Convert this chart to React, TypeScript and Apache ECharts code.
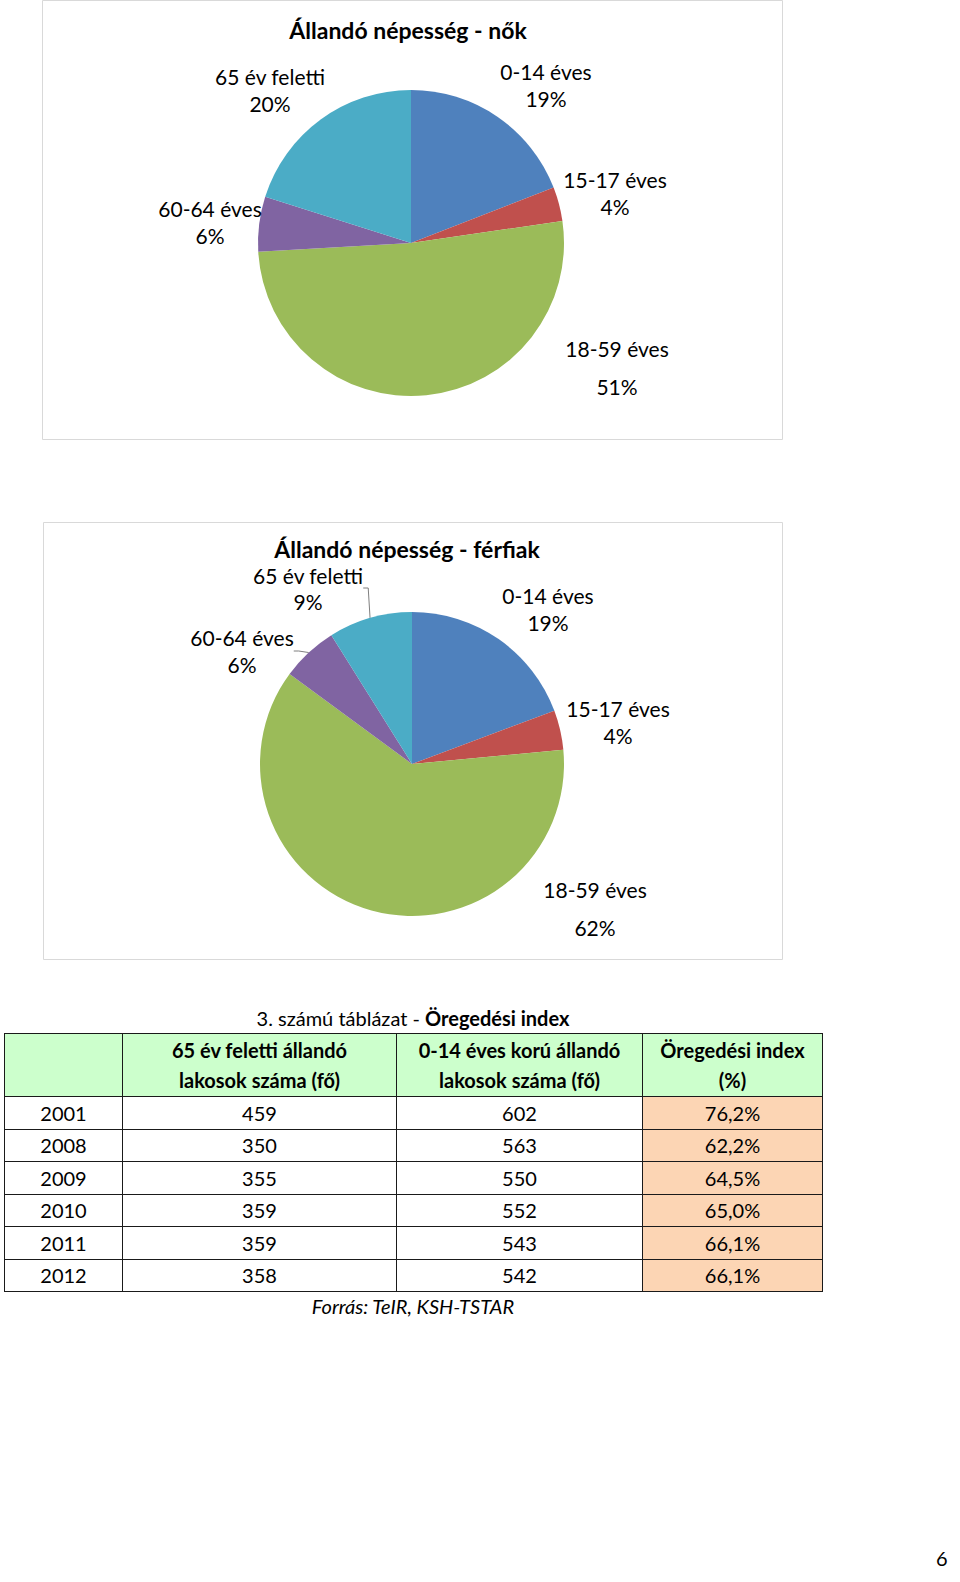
import React, { useEffect, useRef } from 'react';
import * as echarts from 'echarts';

// pie data (share in %)
const ageGroups = ['0-14 éves', '15-17 éves', '18-59 éves', '60-64 éves', '65 év feletti'];
const womenShare = [19.1, 3.6, 51.4, 5.8, 20.1];
const menShare = [19.3, 4.2, 61.6, 6.0, 8.9];
const sliceColors = ['#4F81BD', '#C0504D', '#9BBB59', '#8064A2', '#4BACC6'];

// table data
const tableYears = ['2001', '2008', '2009', '2010', '2011', '2012'];
const over65 = [459, 350, 355, 359, 359, 358];
const under15 = [602, 563, 550, 552, 543, 542];
const agingIndex = [76.2, 62.2, 64.5, 65.0, 66.1, 66.1];

const FONT = 'Lato, "Noto Sans", sans-serif';

// label centres, per pie, per slice
const womenLabelPos = [[546, 85], [615, 193], [617, 367], [210, 222], [270, 90]];
const menLabelPos = [[548, 609], [618, 722], [595, 908], [242, 651], [308, 588]];

function PieCharts() {
  const chartRef = useRef<HTMLDivElement>(null);

  useEffect(() => {
    if (!chartRef.current) return;
    const chart = echarts.init(chartRef.current, null, { renderer: 'svg' });

    const makeSeries = (values: number[], center: number[], radius: number, pos: number[][], lines: boolean) => ({
      type: 'pie',
      center,
      radius,
      startAngle: 90,
      clockwise: true,
      silent: true,
      emphasis: { disabled: true },
      data: ageGroups.map((name, i) => ({
        name,
        value: values[i],
        itemStyle: { color: sliceColors[i] },
        label: i === 2 ? { lineHeight: 38 } : (lines && i === 4 ? { lineHeight: 26 } : undefined),
        labelLine: lines && (i === 3 || i === 4) ? { show: true } : undefined
      })),
      label: {
        show: true,
        position: 'outside',
        fontFamily: FONT,
        fontSize: 21,
        lineHeight: 27,
        color: '#000',
        formatter: (p: any) => `${p.name}\n${Math.round(p.percent)}%`
      },
      labelLine: {
        show: false,
        length: 5,
        length2: 5,
        lineStyle: { color: '#7f7f7f', width: 1 }
      },
      labelLayout: (p: any) => ({
        x: pos[p.dataIndex][0],
        y: pos[p.dataIndex][1],
        align: 'center',
        verticalAlign: 'middle'
      })
    });

    const titleStyle = (text: string) => ({
      text,
      font: `bold 23px ${FONT}`,
      lineHeight: 23,
      fill: '#000',
      textAlign: 'center',
      textVerticalAlign: 'middle'
    });

    chart.setOption({
      animation: false,
      graphic: [
        { type: 'rect', shape: { x: 42.5, y: 0.5, width: 740, height: 439 }, style: { fill: 'none', stroke: '#d9d9d9', lineWidth: 1 }, silent: true },
        { type: 'rect', shape: { x: 43.5, y: 522.5, width: 739, height: 437 }, style: { fill: 'none', stroke: '#d9d9d9', lineWidth: 1 }, silent: true },
        { type: 'text', x: 408, y: 30, style: titleStyle('Állandó népesség - nők') },
        { type: 'text', x: 407, y: 549, style: titleStyle('Állandó népesség - férfiak') }
      ],
      series: [
        makeSeries(womenShare, [411, 243], 153, womenLabelPos, false),
        makeSeries(menShare, [412, 764], 152, menLabelPos, true)
      ]
    } as any);

    return () => {
      chart.dispose();
    };
  }, []);

  return <div ref={chartRef} style={{ position: 'absolute', left: 0, top: 0, width: 960, height: 980 }} />;
}

const cell: React.CSSProperties = {
  border: '1.5px solid #1a1a1a',
  textAlign: 'center',
  padding: 0,
  height: 31.5
};

export default function App() {
  const colWidths = [118, 274, 246, 180];
  return (
    <div style={{ position: 'absolute', left: 0, top: 0, width: 960, height: 1582, background: '#fff', fontFamily: FONT, color: '#000' }}>
      <PieCharts />
      <div style={{ position: 'absolute', left: 13, width: 800, top: 1005, textAlign: 'center', fontSize: 20, lineHeight: '26px' }}>
        3. számú táblázat - <b>Öregedési index</b>
      </div>
      <table style={{ position: 'absolute', left: 4, top: 1033, width: 818, borderCollapse: 'collapse', fontSize: 20, tableLayout: 'fixed' }}>
        <colgroup>
          {colWidths.map((w, i) => <col key={i} style={{ width: w }} />)}
        </colgroup>
        <tbody>
          <tr style={{ background: '#ccffcc', fontWeight: 'bold', lineHeight: '30px' }}>
            <td style={{ ...cell, height: 62 }}></td>
            <td style={cell}>65 év feletti állandó<br />lakosok száma (fő)</td>
            <td style={cell}>0-14 éves korú állandó<br />lakosok száma (fő)</td>
            <td style={cell}>Öregedési index<br />(%)</td>
          </tr>
          {tableYears.map((y, i) => (
            <tr key={y}>
              <td style={cell}>{y}</td>
              <td style={cell}>{over65[i]}</td>
              <td style={cell}>{under15[i]}</td>
              <td style={{ ...cell, background: '#fcd5b4' }}>{agingIndex[i].toFixed(1).replace('.', ',')}%</td>
            </tr>
          ))}
        </tbody>
      </table>
      <div style={{ position: 'absolute', left: 13, width: 800, top: 1294, textAlign: 'center', fontSize: 20, fontStyle: 'italic' }}>
        Forrás: TeIR, KSH-TSTAR
      </div>
      <div style={{ position: 'absolute', left: 936, top: 1546, fontSize: 20 }}>6</div>
    </div>
  );
}
